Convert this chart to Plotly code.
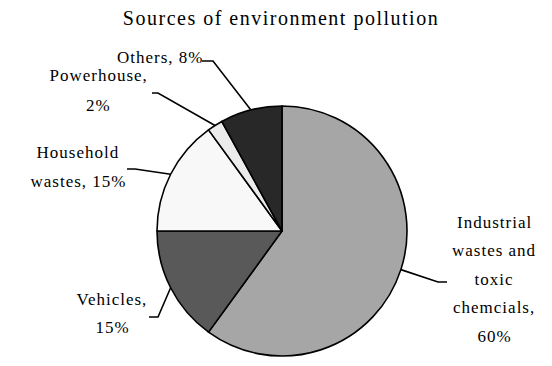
import math
import plotly.graph_objects as go

# ---- data ----
categories = ["Industrial wastes and toxic chemcials", "Vehicles", "Household wastes", "Powerhouse", "Others"]
values = [60, 15, 15, 2, 8]
label_lines = [
    ["Industrial", "wastes and", "toxic", "chemcials,", "60%"],
    ["Vehicles,", "15%"],
    ["Household", "wastes, 15%"],
    ["Powerhouse,", "2%"],
    ["Others, 8%"],
]
colors = ["#a6a6a6", "#595959", "#f8f8f8", "#ebebeb", "#282828"]

W, H = 552, 366
cx, cy, R = 282, 231, 125  # pie centre and radius in pixels

# label layout (pixel positions): text centre x, first line y, line step, anchor
label_pos = [
    dict(x=494, y=222, step=28.5, xanchor="center", elbow=(438, 282), end=(447, 282)),
    dict(x=112, y=299, step=28.5, xanchor="center", elbow=(158, 317), end=(149, 317)),
    dict(x=78, y=152, step=29, xanchor="center", elbow=(135, 169), end=(127, 169)),
    dict(x=98, y=75, step=30, xanchor="center", elbow=(158, 93), end=(152, 93)),
    dict(x=200, y=58, step=0, xanchor="right", elbow=(213, 61), end=(202, 61)),
]

def px(x):
    return x / W

def py(y):
    return 1 - y / H

font_family = "Liberation Serif"

fig = go.Figure(go.Pie(
    labels=categories,
    values=values,
    sort=False,
    direction="clockwise",
    rotation=0,
    textinfo="none",
    hoverinfo="label+percent",
    marker=dict(colors=colors, line=dict(color="#000000", width=1.6)),
    domain=dict(x=[px(cx - R), px(cx + R)], y=[py(cy + R), py(cy - R)]),
))

annotations = []
shapes = []
total = sum(values)
cum = 0
for i, v in enumerate(values):
    mid = (cum + v / 2) / total * 2 * math.pi
    cum += v
    ex = cx + R * math.sin(mid)
    ey = cy - R * math.cos(mid)
    lp = label_pos[i]
    for j, line in enumerate(label_lines[i]):
        annotations.append(dict(
            x=px(lp["x"]), y=py(lp["y"] + j * lp["step"]), xref="paper", yref="paper",
            text=line, showarrow=False, xanchor=lp["xanchor"], yanchor="middle",
            font=dict(family=font_family, size=17, color="#000000"),
        ))
    (bx, by), (tx, ty) = lp["elbow"], lp["end"]
    shapes.append(dict(
        type="path", xref="paper", yref="paper",
        path=f"M {px(ex)} {py(ey)} L {px(bx)} {py(by)} L {px(tx)} {py(ty)}",
        line=dict(color="#000000", width=1.6),
    ))

fig.update_layout(
    width=W, height=H,
    margin=dict(l=0, r=0, t=0, b=0),
    paper_bgcolor="#ffffff",
    plot_bgcolor="#ffffff",
    showlegend=False,
    font=dict(family=font_family),
    title=dict(
        text="Sources of environment pollution",
        x=px(281), y=py(18), xanchor="center", yanchor="middle",
        font=dict(family=font_family, size=20, color="#000000"),
    ),
    annotations=annotations,
    shapes=shapes,
)

post = (
    "document.body.style.margin='0';"
    "document.querySelectorAll('.annotation-text').forEach(function(e){e.style.letterSpacing='1px';});"
    "document.querySelectorAll('.gtitle').forEach(function(e){e.style.letterSpacing='1.5px';});"
)
fig.write_html("out.html", config={"displayModeBar": False}, post_script=post)
